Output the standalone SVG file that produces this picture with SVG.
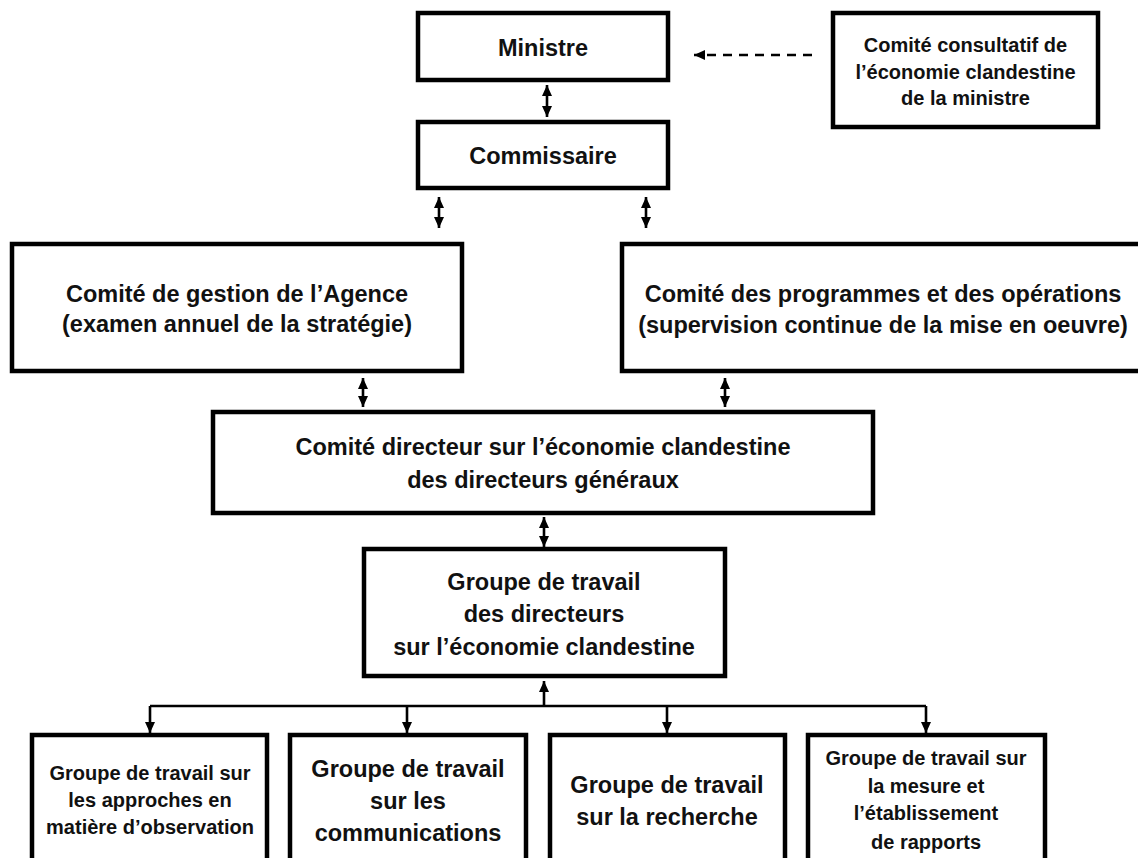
<svg xmlns="http://www.w3.org/2000/svg" width="1138" height="858" viewBox="0 0 1138 858">
<defs>
<marker id="ah" viewBox="0 0 11 10" refX="11" refY="5" markerWidth="11" markerHeight="10" markerUnits="userSpaceOnUse" orient="auto-start-reverse">
<path d="M0,0 L11,5 L0,10 z" fill="#000"/>
</marker>
<style>
.box{fill:#fff;stroke:#000;stroke-width:4.5}
.t{font-family:"Liberation Sans",Arial,Helvetica,sans-serif;font-weight:bold;fill:#111;text-anchor:middle}
.L{font-size:23.5px}
.S{font-size:20px}
.c{fill:none;stroke:#000;stroke-width:2.6}
.d{marker-start:url(#ah);marker-end:url(#ah)}
.e{marker-end:url(#ah)}
</style>
</defs>
<rect width="1138" height="858" fill="#fff"/>
<g id="connectors">
<line class="c d" x1="547" y1="85" x2="547" y2="117"/>
<line class="c d" x1="439" y1="197" x2="439" y2="228"/>
<line class="c d" x1="646" y1="197" x2="646" y2="228"/>
<line class="c d" x1="363" y1="378" x2="363" y2="407"/>
<line class="c d" x1="725" y1="378" x2="725" y2="407"/>
<line class="c d" x1="544" y1="517" x2="544" y2="547"/>
<line class="c e" x1="544" y1="706" x2="544" y2="681"/>
<line class="c" x1="150" y1="706" x2="926" y2="706"/>
<line class="c e" x1="150" y1="706" x2="150" y2="733"/>
<line class="c e" x1="407" y1="706" x2="407" y2="733"/>
<line class="c e" x1="667" y1="706" x2="667" y2="733"/>
<line class="c e" x1="926" y1="706" x2="926" y2="733"/>
<line class="c e" x1="812" y1="55" x2="694" y2="55" stroke-dasharray="9 7"/>
</g>
<g id="ministre">
<rect class="box" x="418" y="13" width="250" height="67"/>
<text class="t L" x="543" y="56">Ministre</text>
</g>
<g id="comite-consultatif">
<rect class="box" x="833" y="13" width="265" height="114"/>
<text class="t S" x="965.5" y="52">Comité consultatif de</text>
<text class="t S" x="965.5" y="79">l’économie clandestine</text>
<text class="t S" x="965.5" y="105">de la ministre</text>
</g>
<g id="commissaire">
<rect class="box" x="418" y="122" width="250" height="66"/>
<text class="t L" x="543" y="164">Commissaire</text>
</g>
<g id="comite-gestion">
<rect class="box" x="12" y="244" width="450" height="127"/>
<text class="t L" x="237" y="302">Comité de gestion de l’Agence</text>
<text class="t L" x="237" y="332">(examen annuel de la stratégie)</text>
</g>
<g id="comite-programmes">
<rect class="box" x="622" y="244" width="522" height="127"/>
<text class="t L" x="883" y="302">Comité des programmes et des opérations</text>
<text class="t L" x="883" y="333">(supervision continue de la mise en oeuvre)</text>
</g>
<g id="comite-directeur">
<rect class="box" x="213" y="412" width="660" height="101"/>
<text class="t L" x="543" y="455">Comité directeur sur l’économie clandestine</text>
<text class="t L" x="543" y="488">des directeurs généraux</text>
</g>
<g id="groupe-directeurs">
<rect class="box" x="364" y="549" width="361" height="127"/>
<text class="t L" x="544" y="590">Groupe de travail</text>
<text class="t L" x="544" y="622">des directeurs</text>
<text class="t L" x="544" y="655">sur l’économie clandestine</text>
</g>
<g id="groupe-observation">
<rect class="box" x="32" y="735" width="235" height="140"/>
<text class="t S" x="150" y="780">Groupe de travail sur</text>
<text class="t S" x="150" y="807">les approches en</text>
<text class="t S" x="150" y="834">matière d’observation</text>
</g>
<g id="groupe-communications">
<rect class="box" x="290" y="735" width="236" height="140"/>
<text class="t L" x="408" y="777">Groupe de travail</text>
<text class="t L" x="408" y="809">sur les</text>
<text class="t L" x="408" y="841">communications</text>
</g>
<g id="groupe-recherche">
<rect class="box" x="550" y="735" width="235" height="140"/>
<text class="t L" x="667" y="793">Groupe de travail</text>
<text class="t L" x="667" y="825">sur la recherche</text>
</g>
<g id="groupe-mesure">
<rect class="box" x="808" y="735" width="237" height="140"/>
<text class="t S" x="926" y="765">Groupe de travail sur</text>
<text class="t S" x="926" y="793">la mesure et</text>
<text class="t S" x="926" y="820">l’établissement</text>
<text class="t S" x="926" y="849">de rapports</text>
</g>
</svg>
